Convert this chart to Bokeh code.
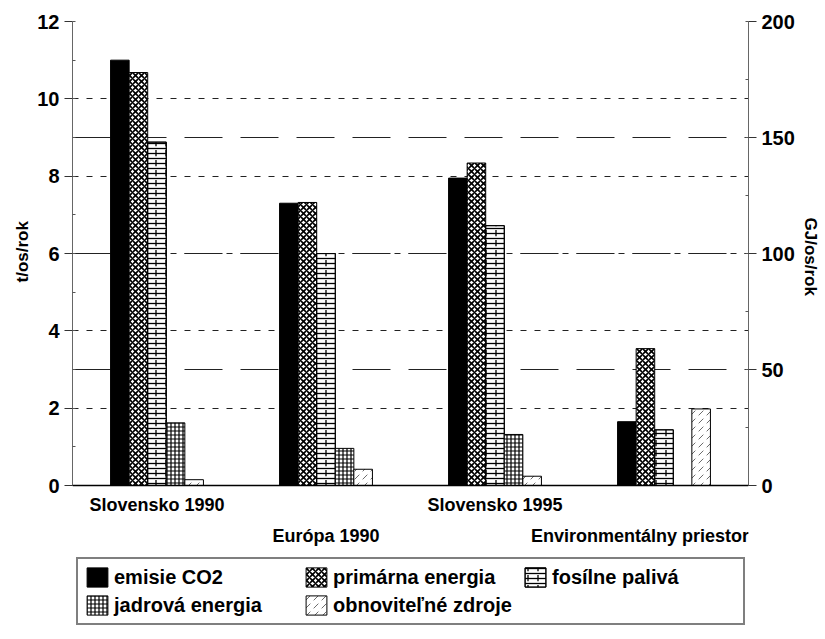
from bokeh.plotting import figure
from bokeh.models import (FactorRange, Range1d, LinearAxis, Grid, Span, Title,
                          SingleIntervalTicker, Legend, LegendItem, ColumnDataSource)
from bokeh.core.properties import value
from bokeh.embed import file_html
from bokeh.resources import INLINE

# ---- data ----
categories = ["Slovensko 1990", "Európa 1990", "Slovensko 1995", "Environmentálny priestor"]
series = ["emisie CO2", "primárna energia", "fosílne palivá", "jadrová energia", "obnoviteľné zdroje"]
emisie_co2 = [11.0, 7.3, 7.95, 1.65]          # t/os/rok (left axis)
primarna_energia = [178, 122, 139, 59]        # GJ/os/rok (right axis)
fosilne_paliva = [148, 100, 112, 24]
jadrova_energia = [27, 16, 22, 0]
obnovitelne_zdroje = [2.5, 7, 4, 33]
label_row = [1, 2, 1, 2]                      # staggered category label rows
left_label = "t/os/rok"
right_label = "GJ/os/rok"

FONT = "Liberation Sans"

# layout (pixels)
FRAME_W, PLOT_H, BELOW_H = 676, 464, 142
PX_PER_T = PLOT_H / 12.0
PX_PER_GJ = PLOT_H / 200.0
ROW_PX = {1: 19, 2: 50}
LABEL_SHIFT_PX = [0, 0, 0, -24]               # keep the last label inside the frame

STYLES = [
    dict(fill_color="black"),
    dict(fill_color="white", hatch_pattern="diagonal_cross", hatch_scale=6,
         hatch_weight=1.6, hatch_color="black"),
    dict(fill_color="white", hatch_pattern="horizontal_line", hatch_scale=5,
         hatch_weight=1.3, hatch_color="black"),
    dict(fill_color="white", hatch_pattern="cross", hatch_scale=4,
         hatch_weight=1.2, hatch_color="black"),
    dict(fill_color="white", hatch_pattern="right_diagonal_dash", hatch_scale=8,
         hatch_weight=0.8, hatch_color="#444"),
]
BRICK_OVERLAY = dict(fill_alpha=0, hatch_pattern="vertical_dash", hatch_scale=10,
                     hatch_weight=1.3, hatch_color="black")

factors = [(c, s) for c in categories for s in series]
x_range = FactorRange(factors=factors, factor_padding=0, group_padding=4.1,
                      range_padding=2.05, range_padding_units="absolute")

# frame extends below zero to hold the category labels and the legend
p = figure(frame_width=FRAME_W, frame_height=PLOT_H + BELOW_H, x_range=x_range,
           y_range=Range1d(-BELOW_H / PX_PER_T, 12),
           x_axis_location=None, output_backend="svg", toolbar_location=None,
           min_border_left=72, min_border_right=61, min_border_top=21, min_border_bottom=0)
p.extra_y_ranges = {"right": Range1d(-BELOW_H / PX_PER_GJ, 200)}
p.extra_x_ranges = {"cats": FactorRange(factors=categories, range_padding=0)}
p.outline_line_color = None
p.xgrid.visible = False

data = [emisie_co2, primarna_energia, fosilne_paliva, jadrova_energia, obnovitelne_zdroje]
items = []
for k, (name, vals) in enumerate(zip(series, data)):
    src = ColumnDataSource(dict(x=[(c, name) for c in categories], top=vals))
    yr = "default" if k == 0 else "right"
    rs = [p.vbar(x="x", top="top", width=1.0, source=src, line_color="black",
                 line_width=1, y_range_name=yr, **STYLES[k])]
    if k == 2:
        rs.append(p.vbar(x="x", top="top", width=1.0, source=src, line_color="black",
                         line_width=1, y_range_name=yr, **BRICK_OVERLAY))
    items.append(LegendItem(label=name, renderers=rs))

# ---- y axes ----
ly = p.yaxis[0]
ly.ticker = SingleIntervalTicker(interval=2, num_minor_ticks=2)
ly.bounds = (0, 12)
ry = LinearAxis(y_range_name="right", bounds=(0, 200),
                ticker=SingleIntervalTicker(interval=50, num_minor_ticks=2))
p.add_layout(ry, "right")
for ax in (ly, ry):
    ax.axis_line_color = "#666"
    ax.axis_line_width = 1
    ax.major_tick_out = 8
    ax.major_tick_in = 0
    ax.minor_tick_out = 0
    ax.minor_tick_in = 3
    ax.major_tick_line_color = "#333"
    ax.minor_tick_line_color = "#555"
    ax.major_label_text_font = FONT
    ax.major_label_text_font_size = "20px"
    ax.major_label_text_font_style = "bold"
    ax.major_label_text_color = "black"
    ax.major_label_standoff = 5

# axis titles beside the axes, positioned along the value area
# left: offset measured up from the frame bottom; right: down from the frame top
p.add_layout(Title(text=left_label, align="left", offset=345, text_font=FONT,
                   text_font_size="17px", text_font_style="bold",
                   text_color="black", standoff=6), "left")
p.add_layout(Title(text=right_label, align="left", offset=196, text_font=FONT,
                   text_font_size="17px", text_font_style="bold",
                   text_color="black", standoff=6), "right")

p.ygrid.grid_line_color = "#222"
p.ygrid.grid_line_width = 1
p.ygrid.grid_line_dash = "6 8"
p.ygrid.bounds = (0, 12)
rgrid = Grid(dimension=1, y_range_name="right", ticker=ry.ticker, bounds=(0, 200),
             grid_line_color="#222", grid_line_width=1, grid_line_dash="38 18")
p.add_layout(rgrid)

p.add_layout(Span(location=0, dimension="width", line_color="black", line_width=1.5))

# ---- staggered category labels ----
lab_src = ColumnDataSource(dict(x=categories,
                                y=[-ROW_PX[r] / PX_PER_T for r in label_row],
                                dx=LABEL_SHIFT_PX,
                                text=categories))
p.text(x="x", y="y", text="text", x_offset="dx", source=lab_src, x_range_name="cats",
       text_align="center", text_baseline="middle", text_font=value(FONT),
       text_font_size=value("18px"), text_font_style=value("bold"), text_color="black")

# ---- legend ----
legend = Legend(items=items, orientation="horizontal", ncols=3, location=(4, 2),
                label_text_font=FONT, label_text_font_size="20px", label_text_font_style="bold",
                label_text_color="black", glyph_width=26, glyph_height=24, label_width=185,
                label_standoff=4, spacing=4, padding=6, margin=0,
                border_line_color="black", border_line_width=2)
p.add_layout(legend, "center")

open("out.html", "w").write(file_html(p, INLINE))
